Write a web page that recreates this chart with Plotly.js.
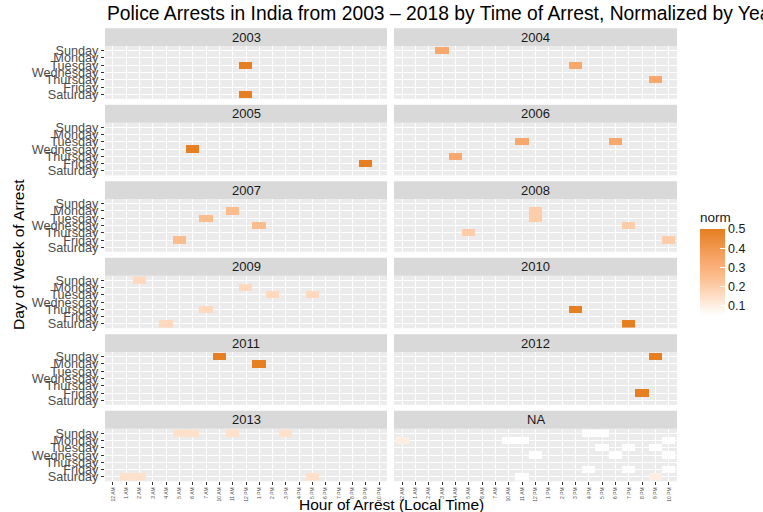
<!DOCTYPE html>
<html>
<head>
<meta charset="utf-8">
<script src="https://cdn.plot.ly/plotly-3.0.1.min.js"></script>
<style>html,body{margin:0;padding:0;background:#fff;}#chart{width:763px;height:512px;}</style>
</head>
<body>
<div id="chart"></div>
<script>
// ---- data ----
const facetLabels = ['2003','2004','2005','2006','2007','2008','2009','2010','2011','2012','2013','NA'];
const dayLabels = ['Sunday','Monday','Tuesday','Wednesday','Thursday','Friday','Saturday'];
const hourLabels = ['12 AM','1 AM','2 AM','3 AM','4 AM','5 AM','6 AM','7 AM','10 AM','11 AM','12 PM',
                    '1 PM','2 PM','3 PM','4 PM','5 PM','6 PM','7 PM','8 PM','9 PM','10 PM'];
const normTicks = [0.1, 0.2, 0.3, 0.4, 0.5];

// one entry per tile: facet, hour, day, normalized value
const tileFacet = [
  '2003','2003',
  '2004','2004','2004',
  '2005','2005',
  '2006','2006','2006',
  '2007','2007','2007','2007',
  '2008','2008','2008','2008','2008',
  '2009','2009','2009','2009','2009','2009',
  '2010','2010',
  '2011','2011',
  '2012','2012',
  '2013','2013','2013','2013','2013','2013','2013',
  'NA','NA','NA','NA','NA','NA','NA','NA','NA','NA','NA','NA','NA','NA','NA','NA','NA'
];
const tileHour = [
  '12 PM','12 PM',
  '3 AM','3 PM','9 PM',
  '6 AM','9 PM',
  '11 AM','6 PM','4 AM',
  '11 AM','7 AM','1 PM','5 AM',
  '12 PM','12 PM','7 PM','5 AM','10 PM',
  '2 AM','12 PM','2 PM','5 PM','7 AM','4 AM',
  '3 PM','7 PM',
  '10 AM','1 PM',
  '9 PM','8 PM',
  '5 AM','6 AM','11 AM','3 PM','1 AM','2 AM','5 PM',
  '4 PM','5 PM','12 AM','10 AM','11 AM','10 PM','5 PM','7 PM','9 PM','12 PM','6 PM','10 PM','4 PM','7 PM','10 PM','11 AM','9 PM'
];
const tileDay = [
  'Tuesday','Saturday',
  'Sunday','Tuesday','Thursday',
  'Wednesday','Friday',
  'Tuesday','Tuesday','Thursday',
  'Monday','Tuesday','Wednesday','Friday',
  'Monday','Tuesday','Wednesday','Thursday','Friday',
  'Sunday','Monday','Tuesday','Tuesday','Thursday','Saturday',
  'Thursday','Saturday',
  'Sunday','Monday',
  'Sunday','Friday',
  'Sunday','Sunday','Sunday','Sunday','Saturday','Saturday','Saturday',
  'Sunday','Sunday','Monday','Monday','Monday','Monday','Tuesday','Tuesday','Tuesday','Wednesday','Wednesday','Wednesday','Friday','Friday','Friday','Saturday','Saturday'
];
const tileNorm = [
  0.5,0.5,
  0.333,0.333,0.333,
  0.5,0.5,
  0.333,0.333,0.333,
  0.25,0.25,0.25,0.25,
  0.2,0.2,0.2,0.2,0.2,
  0.167,0.167,0.167,0.167,0.167,0.167,
  0.5,0.5,
  0.5,0.5,
  0.5,0.5,
  0.143,0.143,0.143,0.143,0.143,0.143,0.143,
  0.053,0.053,0.105,0.053,0.053,0.053,0.053,0.053,0.053,0.053,0.053,0.053,0.053,0.053,0.053,0.053,0.105
];

// ---- layout geometry (pixels) ----
const W = 763, H = 512;
const colX = [[105, 387], [394, 677]];
const rowTop0 = 28.3, rowPitch = 76.5, stripH = 18, panelH = 52.5;

const traces = [];
const layout = {
  width: W, height: H,
  margin: {l: 0, r: 0, t: 0, b: 0},
  paper_bgcolor: '#FFFFFF',
  plot_bgcolor: '#EBEBEB',
  font: {family: 'Liberation Sans, Arial, sans-serif', color: '#1A1A1A'},
  title: {
    text: 'Police Arrests in India from 2003 \u2013 2018 by Time of Arrest, Normalized by Year',
    x: 107 / W, xanchor: 'left', y: 1 - 13 / H, yanchor: 'middle',
    font: {size: 19.3, color: '#000000', family: 'Liberation Sans, Arial, sans-serif'}
  },
  coloraxis: {
    cmin: 0.053, cmax: 0.5,
    colorscale: [[0, '#FFFFFF'], [0.2, '#FEE1CB'], [0.33, '#FDCDAA'], [0.44, '#FCBD8E'], [0.63, '#F8A86C'], [1, '#E67E22']],
    colorbar: {
      x: 700 / W, xanchor: 'left', xpad: 0,
      y: 1 - 315 / H, yanchor: 'bottom', ypad: 0,
      len: (315 - 209) / H, lenmode: 'fraction', thickness: 25,
      outlinewidth: 0,
      tickvals: normTicks, ticktext: normTicks.map(v => v.toFixed(1)),
      ticks: 'inside', ticklen: 5, tickcolor: '#FFFFFF', tickwidth: 1,
      tickfont: {size: 12.5, color: '#1A1A1A'},
      title: {text: 'norm', side: 'top', font: {size: 13.5, color: '#1A1A1A'}}
    }
  },
  shapes: [],
  annotations: [],
  showlegend: false
};

facetLabels.forEach((facet, i) => {
  const row = Math.floor(i / 2), col = i % 2;
  const stripTop = rowTop0 + row * rowPitch;
  const panelTop = stripTop + stripH;
  const panelBot = panelTop + panelH;
  const n = i + 1;
  const xa = 'xaxis' + (n === 1 ? '' : n), ya = 'yaxis' + (n === 1 ? '' : n);
  const xr = 'x' + (n === 1 ? '' : n), yr = 'y' + (n === 1 ? '' : n);

  // build z matrix from tile arrays
  const z = dayLabels.map(() => hourLabels.map(() => null));
  tileFacet.forEach((f, t) => {
    if (f !== facet) return;
    const r = dayLabels.indexOf(tileDay[t]);
    const c = hourLabels.indexOf(tileHour[t]);
    z[r][c] = tileNorm[t];
  });
  traces.push({
    type: 'heatmap', x: hourLabels, y: dayLabels, z: z,
    coloraxis: 'coloraxis', xaxis: xr, yaxis: yr,
    hoverinfo: 'skip', xgap: 0, ygap: 0
  });

  const bottomRow = row === 5;
  layout[xa] = {
    domain: [colX[col][0] / W, colX[col][1] / W],
    anchor: yr,
    type: 'category', categoryorder: 'array', categoryarray: hourLabels,
    tickmode: 'array', tickvals: hourLabels, ticktext: hourLabels,
    range: [-0.6, hourLabels.length - 0.4],
    showgrid: true, gridcolor: '#FFFFFF', gridwidth: 1,
    zeroline: false, showline: false,
    showticklabels: bottomRow,
    ticks: bottomRow ? 'outside' : '', ticklen: 3, tickwidth: 1, tickcolor: '#333333',
    tickangle: -90, tickfont: {size: 5, color: '#4D4D4D'},
    fixedrange: true
  };
  layout[ya] = {
    domain: [1 - panelBot / H, 1 - panelTop / H],
    anchor: xr,
    type: 'category', categoryorder: 'array', categoryarray: dayLabels,
    tickmode: 'array', tickvals: dayLabels, ticktext: dayLabels,
    range: [dayLabels.length - 0.4, -0.6],
    showgrid: true, gridcolor: '#FFFFFF', gridwidth: 1,
    zeroline: false, showline: false,
    showticklabels: col === 0,
    ticks: col === 0 ? 'outside' : '', ticklen: 3, tickwidth: 1, tickcolor: '#333333',
    tickfont: {size: 12.7, color: '#4D4D4D'},
    fixedrange: true
  };

  // facet strip
  layout.shapes.push({
    type: 'rect', xref: 'paper', yref: 'paper', layer: 'below',
    x0: colX[col][0] / W, x1: colX[col][1] / W,
    y0: 1 - panelTop / H, y1: 1 - stripTop / H,
    fillcolor: '#D9D9D9', line: {width: 0}
  });
  layout.annotations.push({
    xref: 'paper', yref: 'paper', showarrow: false,
    x: (colX[col][0] + colX[col][1]) / 2 / W, y: 1 - (stripTop + stripH / 2) / H,
    xanchor: 'center', yanchor: 'middle',
    text: facet, font: {size: 13, color: '#1A1A1A'}
  });
});

// axis titles
layout.annotations.push({
  xref: 'paper', yref: 'paper', showarrow: false,
  x: 391 / W, y: 1 - 504 / H, xanchor: 'center', yanchor: 'middle',
  text: 'Hour of Arrest (Local Time)', font: {size: 15.5, color: '#000000'}
});
layout.annotations.push({
  xref: 'paper', yref: 'paper', showarrow: false,
  x: 18 / W, y: 1 - 255 / H, xanchor: 'center', yanchor: 'middle', textangle: -90,
  text: 'Day of Week of Arrest', font: {size: 15.5, color: '#000000'}
});

Plotly.newPlot('chart', traces, layout, {displayModeBar: false, staticPlot: true});
</script>
</body>
</html>
